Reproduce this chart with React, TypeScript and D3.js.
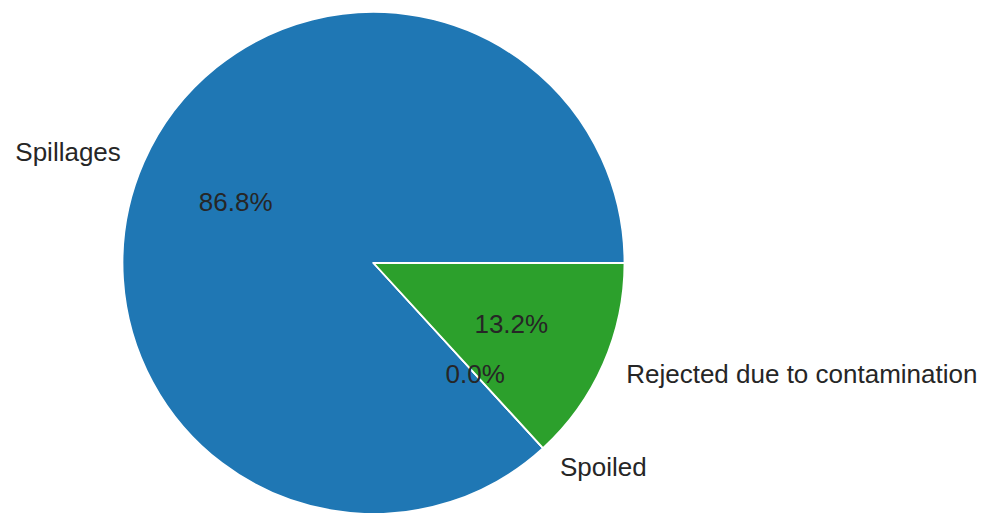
import React from "react";
import * as d3 from "d3";

const labels = ["Spillages", "Spoiled", "Rejected due to contamination"];
const values = [86.8, 0.0, 13.2];
const colors = ["#1f77b4", "#ff7f0e", "#2ca02c"];

const W = 995;
const H = 513;
const cx = 373.5;
const cy = 263;
const R = 251;

export default function App() {
  const pie = d3
    .pie<number>()
    .sort(null)
    .startAngle(Math.PI / 2)
    .endAngle(Math.PI / 2 - 2 * Math.PI);
  const arcs = pie(values);
  const arc = d3.arc<d3.PieArcDatum<number>>().innerRadius(0).outerRadius(R);
  const total = d3.sum(values);
  const font = "'Liberation Sans', Arial, sans-serif";
  return (
    <svg
      width={W}
      height={H}
      style={{ position: "absolute", left: 0, top: 0, background: "#fff" }}
    >
      <g transform={`translate(${cx},${cy})`}>
        {arcs.map((a, i) => (
          <path
            key={"w" + i}
            d={arc(a) || ""}
            fill={colors[i]}
            stroke="#ffffff"
            strokeWidth={1.8}
            strokeLinejoin="round"
          />
        ))}
        {arcs.map((a, i) => {
          const m = (a.startAngle + a.endAngle) / 2;
          const lx = R * 1.1 * Math.sin(m);
          const ly = -R * 1.1 * Math.cos(m);
          const px = R * 0.6 * Math.sin(m);
          const py = -R * 0.6 * Math.cos(m);
          const pct = ((values[i] / total) * 100).toFixed(1) + "%";
          return (
            <g key={"t" + i}>
              <text
                x={lx}
                y={ly}
                textAnchor={lx > 0 ? "start" : "end"}
                dominantBaseline="central"
                fontFamily={font}
                fontSize={26}
                fill="#262626"
              >
                {labels[i]}
              </text>
              <text
                x={px}
                y={py}
                textAnchor="middle"
                dominantBaseline="central"
                fontFamily={font}
                fontSize={26}
                fill="#262626"
              >
                {pct}
              </text>
            </g>
          );
        })}
      </g>
    </svg>
  );
}
